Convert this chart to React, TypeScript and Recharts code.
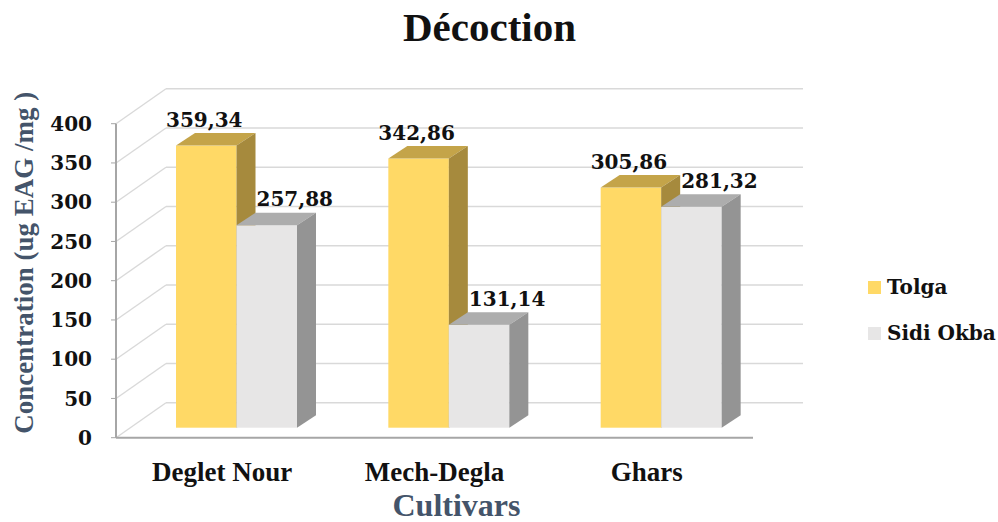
import { BarChart, Bar, XAxis, YAxis, CartesianGrid, Legend, LabelList, Label } from 'recharts';

const cultivars = ['Deglet Nour', 'Mech-Degla', 'Ghars'];
const tolga = [359.34, 342.86, 305.86];
const sidiOkba = [257.88, 131.14, 281.32];
const yTicks = [0, 50, 100, 150, 200, 250, 300, 350, 400];
const seriesNames = ['Tolga', 'Sidi Okba'];

const data = cultivars.map((name, i) => ({ name, tolga: tolga[i], sidiOkba: sidiOkba[i] }));

// fake 3D: back wall offset, bar row offset, bar depth
const WALL_DX = 50;
const WALL_DY = -35;
const BAR_DX = 14;
const BAR_DY = -10;
const DEPTH_DX = 19;
const DEPTH_DY = -12.5;

const colors = {
  tolga: { front: '#FFD966', top: '#C4A449', side: '#A68A3D', labelShift: -2 },
  sidiOkba: { front: '#E7E6E6', top: '#ADADAD', side: '#949494', labelShift: 28 },
};

const numFont = { fontFamily: 'DejaVu Serif', fontWeight: 700 };
const textFont = { fontFamily: 'Liberation Serif', fontWeight: 700 };

const fmt = (v: number) => v.toFixed(2).replace('.', ',');

const makePrism = (c: typeof colors.tolga) => (props: any) => {
  const { x, y, width, height } = props;
  const X = x + BAR_DX;
  const Y = y + BAR_DY;
  const R = X + width;
  return (
    <g>
      <rect x={X} y={Y} width={width} height={height} fill={c.front} />
      <polygon
        points={`${X},${Y} ${R},${Y} ${R + DEPTH_DX},${Y + DEPTH_DY} ${X + DEPTH_DX},${Y + DEPTH_DY}`}
        fill={c.top}
      />
      <polygon
        points={`${R},${Y} ${R + DEPTH_DX},${Y + DEPTH_DY} ${R + DEPTH_DX},${Y + height + DEPTH_DY} ${R},${Y + height}`}
        fill={c.side}
      />
    </g>
  );
};

const makeValueLabel = (c: typeof colors.tolga) => (props: any) => {
  const { x, y, width, value } = props;
  return (
    <text
      x={x + width / 2 + BAR_DX + c.labelShift}
      y={y - 29}
      textAnchor="middle"
      fontSize={20}
      fill="#111"
      style={numFont}
    >
      {fmt(value)}
    </text>
  );
};

// floor/back wall lines: diagonal from the front axis, then across the back
const wallLine = (p: any) => {
  const { x1, x2, y1, index } = p;
  return (
    <g key={`wall-${index}-${y1}`}>
      <line x1={x1} y1={y1} x2={x1 + WALL_DX} y2={y1 + WALL_DY} stroke="#D9D9D9" strokeWidth={1.4} />
      <line x1={x1 + WALL_DX} y1={y1 + WALL_DY} x2={x2 + WALL_DX} y2={y1 + WALL_DY} stroke="#D9D9D9" strokeWidth={1.4} />
    </g>
  );
};

const CategoryTick = (props: any) => {
  const { x, y, payload } = props;
  return (
    <text x={x} y={y + 43} textAnchor="middle" fontSize={27} fill="#111" style={textFont}>
      {payload.value}
    </text>
  );
};

const LegendBox = (props: any) => {
  const items = [...(props.payload || [])].sort(
    (a: any, b: any) => seriesNames.indexOf(a.value) - seriesNames.indexOf(b.value)
  );
  return (
    <div style={{ ...numFont, fontSize: 20, color: '#111', whiteSpace: 'nowrap', width: 130 }}>
      {items.map((entry: any) => (
        <div key={entry.value} style={{ display: 'flex', alignItems: 'center', height: 46 }}>
          <span style={{ width: 13, height: 13, background: entry.color, marginRight: 6, display: 'inline-block' }} />
          {entry.value}
        </div>
      ))}
    </div>
  );
};

export default function App() {
  return (
    <div style={{ position: 'absolute', left: 0, top: 0, width: 998, height: 522, background: '#fff' }}>
      <BarChart
        width={998}
        height={522}
        data={data}
        margin={{ top: 123.7, right: 245, bottom: 54.3, left: 56 }}
        barGap={0}
        barSize={60.5}
      >
        <CartesianGrid vertical={false} horizontal={wallLine} />
        <XAxis
          dataKey="name"
          height={30}
          tickLine={false}
          tickSize={0}
          tickMargin={0}
          axisLine={{ stroke: '#A6A6A6', strokeWidth: 2 }}
          tick={<CategoryTick />}
          interval={0}
        >
          <Label
            content={(p: any) => {
              const vb = p.viewBox;
              return (
                <text x={vb.x + vb.width / 2 + 22} y={516} textAnchor="middle" fontSize={32} fill="#44546A" style={textFont}>
                  Cultivars
                </text>
              );
            }}
          />
        </XAxis>
        <YAxis
          domain={[0, 400]}
          ticks={yTicks}
          interval={0}
          width={60}
          tickSize={5}
          tickMargin={19}
          axisLine={{ stroke: '#A6A6A6', strokeWidth: 2 }}
          tickLine={{ stroke: '#A6A6A6' }}
          tick={{ fontSize: 20, fill: '#111', ...numFont }}
        >
          <Label
            content={(p: any) => {
              const vb = p.viewBox;
              const cx = 33;
              const cy = vb.y + vb.height / 2 - 18;
              return (
                <text
                  x={cx}
                  y={cy}
                  transform={`rotate(-90, ${cx}, ${cy})`}
                  textAnchor="middle"
                  fontSize={27}
                  fill="#44546A"
                  style={textFont}
                >
                  Concentration (ug EAG /mg )
                </text>
              );
            }}
          />
        </YAxis>
        <Legend
          layout="horizontal"
          verticalAlign="middle"
          align="center"
          wrapperStyle={{ left: 868, top: 264, width: 130 }}
          content={<LegendBox />}
        />
        <Bar dataKey="tolga" name="Tolga" fill={colors.tolga.front} shape={makePrism(colors.tolga)} isAnimationActive={false}>
          <LabelList dataKey="tolga" content={makeValueLabel(colors.tolga)} />
        </Bar>
        <Bar dataKey="sidiOkba" name="Sidi Okba" fill={colors.sidiOkba.front} shape={makePrism(colors.sidiOkba)} isAnimationActive={false}>
          <LabelList dataKey="sidiOkba" content={makeValueLabel(colors.sidiOkba)} />
        </Bar>
      </BarChart>
      <svg width={998} height={60} style={{ position: 'absolute', left: 0, top: 0, pointerEvents: 'none' }}>
        <text x={489.5} y={40.7} textAnchor="middle" fontSize={41} fill="#111" style={textFont}>
          Décoction
        </text>
      </svg>
    </div>
  );
}
